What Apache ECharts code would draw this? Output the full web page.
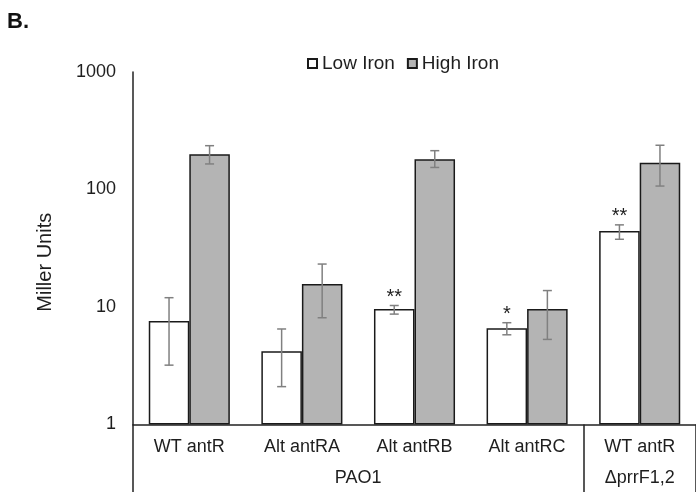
<!DOCTYPE html>
<html>
<head>
<meta charset="utf-8">
<script src="https://cdn.jsdelivr.net/npm/echarts@6/dist/echarts.min.js"></script>
<style>
html,body{margin:0;padding:0;background:#fff;}
#chart{width:696px;height:492px;}
</style>
</head>
<body>
<div id="chart"></div>
<script>
// ---- data ----
var categories = ['WT antR', 'Alt antRA', 'Alt antRB', 'Alt antRC', 'WT antR'];
var groupLabels = ['PAO1', '\u0394prrF1,2'];
var groupSpans = [4, 1];
var lowIron = [7.6, 4.2, 9.6, 6.6, 44.3];
var lowErrUpper = [12.0, 6.5, 10.3, 7.35, 50];
var lowErrLower = [3.2, 2.1, 8.7, 5.8, 37.7];
var lowSig = ['', '', '**', '*', '**'];
var highIron = [200, 15.7, 181, 9.6, 169];
var highErrUpper = [236, 23.2, 214, 13.8, 238];
var highErrLower = [165, 8.1, 154, 5.3, 107];
var highSig = ['', '', '', '', ''];
var seriesNames = ['Low Iron', 'High Iron'];

// ---- chart ----
var FONT = '"Liberation Sans", Arial, sans-serif';
var TXT = '#1e1e1e';
var CAT_GAP = 0.28;

var groupCenters = [];
var groupBounds = [];
(function () {
  var acc = 0;
  for (var g = 0; g < groupSpans.length; g++) {
    groupBounds.push(acc);
    groupCenters.push(acc + groupSpans[g] / 2);
    acc += groupSpans[g];
  }
})();

function errSeries(lo, hi, sig, side) {
  return {
    type: 'custom',
    xAxisIndex: 0,
    yAxisIndex: 0,
    z: 5,
    silent: true,
    encode: { x: 0, y: [1, 2] },
    data: categories.map(function (c, i) { return [i, lo[i], hi[i]]; }),
    renderItem: function (params, api) {
      var i = api.value(0);
      var band = api.size([1, 0])[0];
      var off = side * band * (1 - CAT_GAP) / 4;
      var pTop = api.coord([i, api.value(2)]);
      var pBot = api.coord([i, api.value(1)]);
      var x = pTop[0] + off;
      var cap = 4.5;
      var st = { stroke: '#808080', lineWidth: 1.5 };
      var children = [
        { type: 'line', shape: { x1: x, y1: pTop[1], x2: x, y2: pBot[1] }, style: st },
        { type: 'line', shape: { x1: x - cap, y1: pTop[1], x2: x + cap, y2: pTop[1] }, style: st },
        { type: 'line', shape: { x1: x - cap, y1: pBot[1], x2: x + cap, y2: pBot[1] }, style: st }
      ];
      var s = sig[params.dataIndex];
      if (s) {
        children.push({
          type: 'text',
          style: {
            x: x, y: pTop[1] - 8.5,
            text: s,
            font: '20px ' + FONT,
            fill: TXT,
            align: 'center',
            verticalAlign: 'middle'
          }
        });
      }
      return { type: 'group', children: children };
    }
  };
}

var chart = echarts.init(document.getElementById('chart'), null, { renderer: 'canvas' });
chart.setOption({
  animation: false,
  backgroundColor: '#fff',
  title: {
    text: 'B.',
    left: 2, top: 6,
    textStyle: { fontFamily: FONT, fontSize: 22, fontWeight: 'bold', color: '#111' }
  },
  legend: {
    data: seriesNames,
    left: 302, top: 49,
    itemWidth: 9, itemHeight: 9,
    itemGap: 12,
    icon: 'rect',
    textStyle: { fontFamily: FONT, fontSize: 19, color: TXT }
  },
  grid: { left: 133, right: -7, top: 72, bottom: 67.5 },
  xAxis: [{
    type: 'category',
    data: categories,
    position: 'bottom',
    axisLine: { lineStyle: { color: '#222', width: 1.5 } },
    axisTick: {
      show: true,
      length: 70,
      interval: function (index) { return groupBounds.indexOf(index) >= 0; },
      lineStyle: { color: '#222', width: 1.5 }
    },
    axisLabel: { interval: 0, margin: 14, fontFamily: FONT, fontSize: 18, color: TXT },
    splitLine: { show: false }
  }, {
    type: 'value',
    min: 0, max: categories.length,
    position: 'bottom',
    axisLine: { show: false },
    axisTick: { show: false },
    splitLine: { show: false },
    axisLabel: {
      customValues: groupCenters,
      margin: 45,
      fontFamily: FONT, fontSize: 18, color: TXT,
      formatter: function (v) {
        var k = groupCenters.indexOf(v);
        return k >= 0 ? groupLabels[k] : '';
      }
    }
  }],
  yAxis: {
    type: 'log',
    logBase: 10,
    min: 1, max: 1000,
    name: 'Miller Units',
    nameLocation: 'middle',
    nameRotate: 90,
    nameGap: 78,
    nameTextStyle: { fontFamily: FONT, fontSize: 20, color: TXT, padding: [0, 28, 0, 0] },
    axisLine: { show: true, lineStyle: { color: '#222', width: 1.5 } },
    axisTick: { show: false },
    splitLine: { show: false },
    axisLabel: {
      margin: 17, fontFamily: FONT, fontSize: 18, color: TXT,
      formatter: function (v) { return String(Math.round(v)); }
    }
  },
  series: [{
    name: seriesNames[0],
    type: 'bar',
    data: lowIron,
    barGap: '0%',
    barCategoryGap: (CAT_GAP * 100) + '%',
    itemStyle: { color: '#ffffff', borderColor: '#1a1a1a', borderWidth: 1.5 }
  }, {
    name: seriesNames[1],
    type: 'bar',
    data: highIron,
    barGap: '0%',
    barCategoryGap: (CAT_GAP * 100) + '%',
    itemStyle: { color: '#b4b4b4', borderColor: '#1a1a1a', borderWidth: 1.5 }
  },
  errSeries(lowErrLower, lowErrUpper, lowSig, -1),
  errSeries(highErrLower, highErrUpper, highSig, 1)
  ]
});
</script>
</body>
</html>
